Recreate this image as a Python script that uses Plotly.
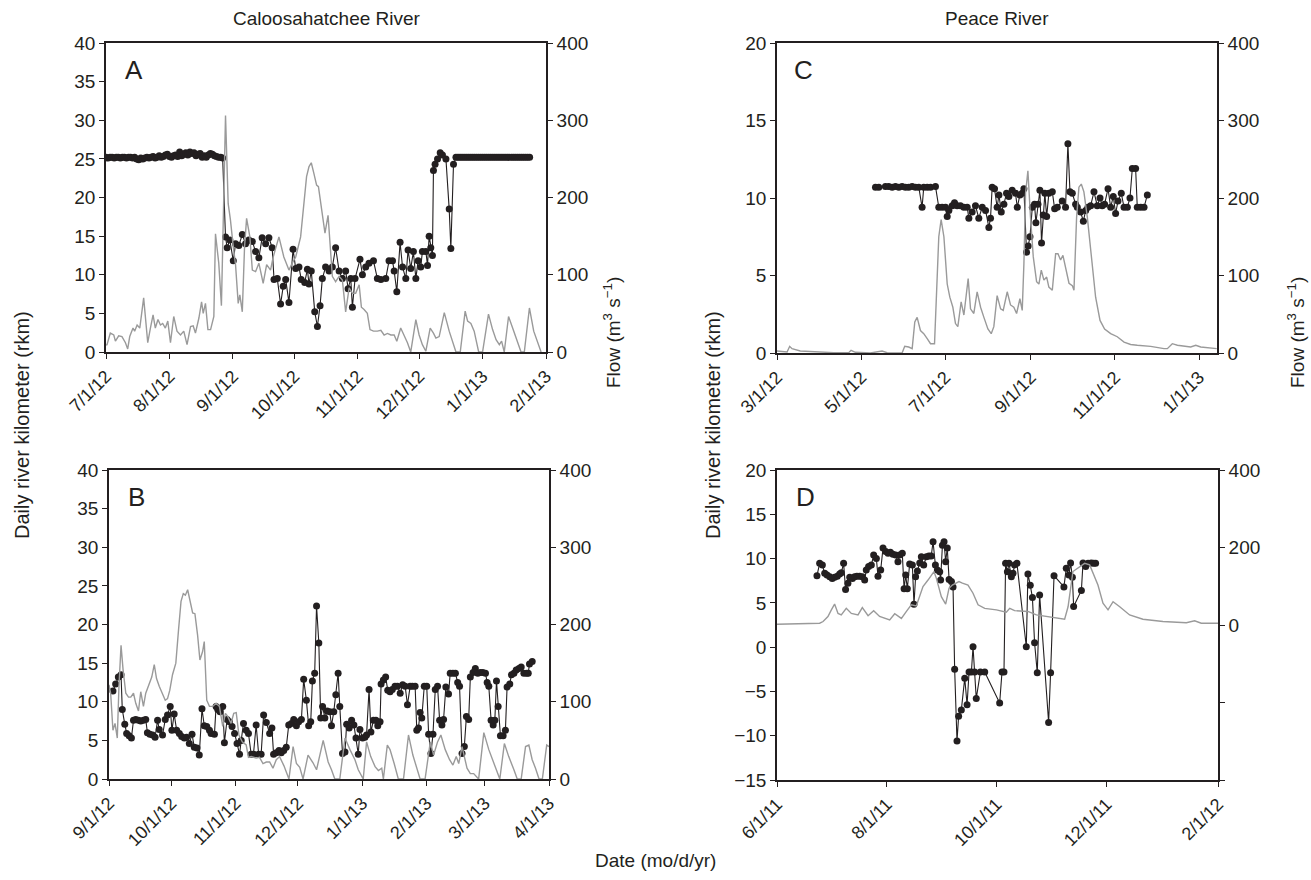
import pandas as pd
import plotly.graph_objects as go

# ---------------- DATA ----------------
# Panel A (Caloosahatchee, start 2012-07-01) : day offsets and values
a_start = "2012-07-01"
a_rkm_day = list(range(0, 58)) + [58.4, 59.2, 60.5, 62.2, 63.3, 64.9, 66.6, 68.2, 69.8, 71.5, 73.1, 74.7, 76.3, 78.0,
    79.6, 81.2, 82.1, 83.7, 85.3, 86.6, 87.8, 89.4, 91.4, 92.7, 94.3, 95.4, 97.1, 98.4, 99.2, 100.3, 102.0,
    103.3, 104.6, 105.7, 107.3, 109.0, 110.6, 112.2, 113.9, 115.5, 117.1, 118.3, 119.6, 120.4, 121.7, 124.1,
    125.3, 126.9, 128.5, 130.7, 132.6, 134.3, 136.7, 138.3, 140.0, 140.8, 142.1, 143.7, 144.9, 146.5, 147.6,
    148.9, 150.2, 151.4, 152.5, 153.8, 154.6, 156.3, 157.1, 157.9, 158.7, 159.5, 160.0, 160.8, 162.0, 163.3,
    164.4, 166.1, 167.7, 168.5, 169.8, 171.0] + list(range(172, 208))
a_rkm = [25.2, 25.1, 25.2, 25.2, 25.1, 25.2, 25.2, 25.1, 25.2, 25.2,
    25.1, 25.2, 25.2, 25.1, 25.2, 25.0, 24.9, 25.1, 25.0, 25.1,
    25.2, 25.1, 25.2, 25.3, 25.1, 25.2, 25.4, 25.2, 25.3, 25.5,
    25.6, 25.3, 25.2, 25.4, 25.5, 25.3, 25.9, 25.4, 25.6, 25.8,
    25.5, 25.9, 25.7, 25.8, 25.4, 25.6, 25.7, 25.2, 25.4, 25.2,
    25.5, 25.7, 25.6, 25.4, 25.3, 25.2, 25.2, 25.1,
    14.9, 13.5, 14.5, 11.8, 14.0, 13.8, 15.2, 14.0, 14.5, 14.3, 13.0, 12.2, 14.8, 14.0,
    14.8, 13.5, 9.4, 9.5, 6.2, 8.5, 9.4, 6.4, 13.3, 10.8, 11.0, 9.4, 9.0, 10.7, 8.8, 10.5, 5.2,
    3.3, 6.0, 9.5, 11.0, 10.5, 11.0, 13.5, 10.5, 9.5, 10.5, 8.2, 9.5, 5.8, 9.5, 12.0,
    10.0, 11.0, 11.5, 11.8, 9.5, 9.4, 9.5, 11.8, 11.8, 10.5, 7.8, 14.2, 11.0, 9.5, 13.2,
    10.8, 13.0, 9.5, 11.8, 11.0, 13.0, 13.0, 11.2, 15.0, 13.5, 12.5, 23.5, 24.3, 25.0, 25.8,
    25.5, 25.0, 18.5, 13.4, 24.3, 25.2,
    25.2, 25.2, 25.2, 25.2, 25.2, 25.2, 25.2, 25.2, 25.2, 25.2, 25.2, 25.2,
    25.2, 25.2, 25.2, 25.2, 25.2, 25.2, 25.2, 25.2, 25.2, 25.2, 25.2, 25.2,
    25.2, 25.2, 25.2, 25.2, 25.2, 25.2, 25.2, 25.2, 25.2, 25.2, 25.2, 25.2]
a_flow_day = [0, 0.5, 2.1, 3.8, 4.6, 6.2, 7.8, 9.5, 10.6, 11.6, 13.2, 14.0, 15.2, 16.5, 18.4, 20.4, 21.7, 23.0,
    24.1, 25.4, 26.6, 27.7, 29.0, 30.2, 31.5, 33.1, 34.7, 36.4, 38.0, 39.6, 41.3, 42.6, 43.7, 45.4, 46.7,
    47.5, 48.6, 49.8, 51.1, 52.7, 53.5, 55.1, 56.4, 58.4, 59.7, 60.8, 62.2, 63.3, 64.6, 65.4, 66.6, 67.7,
    68.7, 70.3, 71.5, 73.1, 74.7, 76.8, 78.5, 80.4, 81.7, 84.5, 86.9, 89.4, 91.0, 92.7, 95.1, 96.7, 98.0,
    99.2, 100.3, 101.6, 102.9, 103.8, 105.2, 107.0, 108.5, 109.5, 110.6, 112.2, 113.9, 115.5, 117.1, 118.8,
    120.4, 122.0, 123.7, 124.8, 126.1, 127.7, 129.0, 130.7, 132.6, 134.3, 135.9, 137.5, 139.2, 140.8, 142.1,
    144.0, 145.7, 147.3, 148.9, 151.4, 153.0, 154.6, 156.3, 158.4, 160.0, 161.2, 162.8, 165.3, 167.7, 169.3,
    171.0, 173.1, 175.5, 176.7, 178.3, 179.9, 182.1, 184.0, 186.9, 188.9, 190.6, 192.2, 193.3, 194.6, 196.7,
    198.7, 201.1, 202.8, 204.4, 206.9, 209.0, 210.9, 212.6]
a_flow = [9, 9.5, 24.5, 22, 14, 21, 20, 12, 4, 20, 31, 27, 35, 31, 70, 12, 31, 48,
    31, 42, 35, 37, 31, 40, 12, 46, 27, 22, 27, 9.5, 33, 34, 24.5, 44, 65,
    50, 63, 29, 29, 46, 153, 115, 60, 306, 192, 171, 136, 113, 63, 74, 52, 136,
    173, 149, 106, 104, 115, 89, 113, 106, 123, 149, 123, 106, 115, 123, 149, 188, 227,
    240, 245, 231, 216, 214, 188, 154, 177, 136, 98, 91, 98, 93, 52, 83,
    76, 76, 87, 58, 55, 50, 29, 27, 27, 28, 22, 24, 22, 22, 14,
    31, 22, 12, 0, 42, 22, 9.5, 1, 31, 24.5, 18, 20, 51, 27, 14,
    0, 0, 53, 40, 37, 27, 0, 0, 49, 29, 16, 9.5, 14, 0, 46,
    31, 12, 0, 0, 57, 27, 12, 0]

# Panel B (Caloosahatchee, start 2012-09-01)
b_start = "2012-09-01"
b_rkm_day = [1.9, 3.2, 4.5, 5.8, 6.4, 7.6, 8.5, 9.7, 10.8, 11.8, 12.9, 14.2, 15.3, 16.6, 17.7, 18.5, 19.7, 21.0,
    22.2, 23.4, 24.2, 25.8, 27.1, 28.2, 29.5, 30.3, 31.4, 32.6, 33.9, 35.0, 36.3, 37.4, 38.7, 40.0, 41.1,
    42.4, 43.5, 44.8, 45.9, 47.1, 48.4, 49.2, 50.8, 51.6, 52.4, 53.5, 54.8, 55.6, 56.9, 58.0, 59.3, 60.5,
    61.7, 62.9, 63.7, 64.8, 66.1, 67.2, 68.5, 69.6, 70.9, 72.1, 73.3, 74.5, 75.8, 77.4, 78.5, 79.3, 80.6,
    81.9, 83.0, 84.2, 85.4, 86.6, 87.9, 89.0, 90.3, 91.4, 92.7, 93.8, 95.1, 96.2, 97.2, 98.0, 99.1, 100.0,
    101.1, 102.0, 102.9, 104.0, 105.1, 106.4, 107.2, 108.3, 109.3, 110.4, 111.2, 112.5, 113.7, 114.5, 115.7,
    116.9, 118.0, 119.0, 120.1, 120.9, 122.2, 123.3, 124.1, 125.3, 126.2, 127.4, 128.6, 129.5, 130.6, 131.1,
    132.2, 133.3, 134.3, 135.4, 136.5, 137.8, 139.0, 140.3, 141.5, 142.7, 143.8, 145.1, 146.2, 147.5, 148.3,
    149.1, 149.9, 150.7, 151.9, 153.1, 154.0, 155.1, 156.1, 157.2, 158.3, 159.3, 160.4, 161.2, 162.3, 163.6,
    164.4, 165.7, 166.9, 168.0, 168.9, 170.1, 171.2, 172.2, 173.3, 174.1, 175.4, 176.5, 177.7, 178.9, 180.1,
    181.4, 182.2, 183.0, 184.1, 185.1, 185.9, 186.7, 187.5, 188.6, 189.9, 191.0, 191.8, 193.1, 193.9, 195.1,
    196.2, 197.5, 198.6, 199.9, 201.2, 202.0, 202.6, 203.9]
b_rkm = [11.4, 12.3, 13.2, 13.5, 9.0, 7.1, 5.9, 5.6, 5.3, 7.6, 7.7, 7.6, 7.5, 7.6, 7.7, 6.0, 5.8, 5.7,
    5.4, 7.6, 6.4, 5.7, 7.7, 8.3, 9.4, 6.3, 8.4, 6.3, 5.9, 5.5, 5.3, 5.4, 4.6, 5.8, 4.1,
    4.0, 3.1, 9.1, 6.9, 6.8, 6.3, 5.9, 5.8, 9.4, 9.0, 8.7, 9.4, 4.7, 7.7, 7.4, 6.8, 5.9,
    4.6, 3.2, 5.0, 7.2, 6.3, 5.9, 3.2, 3.2, 7.0, 3.2, 3.2, 8.3, 7.3, 5.9, 6.6, 3.2, 3.4,
    3.7, 3.4, 3.7, 4.1, 7.0, 7.2, 7.7, 6.9, 7.4, 7.7, 12.9, 10.2, 6.9, 7.4, 12.7, 13.7, 22.4,
    17.6, 7.9, 9.4, 7.9, 8.8, 8.7, 6.9, 8.7, 10.9, 13.7, 9.4, 3.3, 3.5, 7.1, 6.6,
    7.6, 7.0, 5.3, 3.2, 6.4, 5.3, 5.4, 5.7, 11.6, 6.1, 7.6, 7.6, 6.9, 7.4, 12.3,
    12.8, 13.2, 11.5, 11.3, 11.6, 12.0, 12.0, 11.1, 12.2, 12.0, 9.6, 12.0, 12.0, 12.0, 6.3,
    6.6, 8.6, 7.9, 12.0, 12.0, 5.8, 3.3, 5.8, 11.6, 12.0, 7.6, 7.0, 7.7, 11.9, 11.0,
    13.7, 13.7, 13.7, 12.5, 12.0, 3.3, 4.2, 8.1, 7.7, 13.2, 13.8, 14.3, 13.7, 13.8, 13.8,
    13.7, 12.5, 12.0, 7.6, 7.0, 7.6, 12.7, 9.4, 5.6, 5.6, 6.3, 11.9, 12.3, 13.5, 13.7,
    14.1, 14.3, 14.5, 13.7, 13.7, 13.7, 14.9, 15.2]
b_flow_day = [0, 0.8, 1.9, 2.9, 4.0, 4.8, 5.8, 6.8, 8.1, 9.4, 10.5, 11.8, 12.9, 14.2, 15.3, 16.6, 17.7, 19.3,
    20.6, 21.8, 22.9, 24.2, 25.8, 27.1, 28.2, 29.3, 30.6, 32.2, 33.5, 34.7, 35.8, 36.8, 37.9, 39.0, 40.3,
    41.4, 42.7, 43.8, 45.1, 45.9, 47.1, 48.4, 50.0, 51.6, 53.2, 54.8, 56.1, 57.2, 58.8, 60.1, 61.3, 62.6,
    64.2, 66.1, 67.2, 68.5, 70.9, 72.5, 74.2, 75.8, 77.4, 79.0, 80.6, 82.2, 84.3, 86.7, 88.7, 90.3, 91.9,
    93.5, 95.9, 98.3, 100.0, 103.2, 105.6, 107.2, 108.8, 111.2, 113.7, 116.1, 118.5, 120.1, 122.5, 124.1,
    126.1, 128.2, 129.8, 131.4, 132.2, 134.1, 135.4, 137.4, 139.4, 141.9, 144.3, 146.4, 148.3, 149.9, 152.3,
    154.8, 156.4, 158.3, 159.9, 162.0, 164.1, 165.7, 167.3, 168.5, 170.1, 172.5, 174.1, 175.7, 178.1, 180.6,
    183.0, 185.4, 187.0, 188.3, 190.5, 192.6, 195.1, 196.7, 198.6, 200.7, 202.3, 203.9, 205.5, 207.2, 208.8,
    210.9, 212.0]
b_flow = [122, 111, 63, 72, 53, 120, 173, 141, 111, 106, 106, 111, 98, 88, 113, 94, 111, 124,
    132, 148, 130, 120, 109, 102, 104, 115, 135, 150, 193, 230, 240, 238, 245, 232, 215,
    214, 186, 154, 165, 178, 102, 94, 94, 98, 94, 68, 85, 81, 72, 85, 86, 57,
    48, 44, 28, 29, 27, 28, 20, 22, 22, 14, 25, 29, 17, 0, 42, 20, 15,
    0, 31, 21, 12, 50, 22, 12, 0, 0, 53, 38, 25, 12, 0, 48,
    29, 16, 11, 14, 0, 44, 38, 20, 0, 0, 57, 31, 14, 0, 0,
    48, 31, 48, 57, 38, 25, 18, 29, 20, 42, 14, 7, 7, 0, 60,
    38, 20, 9, 0, 46, 29, 12, 0, 0, 42, 44, 25, 14, 0, 0,
    44, 42]

# Panel C (Peace River, start 2012-03-01)
c_start = "2012-03-01"
c_rkm_day = [71.4, 73.8, 78.6, 81.0, 83.5, 85.9, 88.3, 90.7, 93.1, 95.5, 98.0, 100.4, 102.8, 105.2, 106.4,
    108.9, 111.3, 114.9, 117.3, 119.7, 122.2, 123.4, 124.6, 127.0, 128.7, 130.6, 133.0, 135.5, 137.9, 139.1,
    141.5, 143.9, 146.3, 148.8, 151.2, 153.6, 154.8, 156.0, 157.7, 159.6, 160.9, 162.6, 164.5, 166.4, 168.1,
    170.5, 172.9, 174.2, 176.1, 177.8, 179.0, 180.9, 182.1, 183.4, 185.1, 186.7, 187.7, 189.2, 190.6, 191.8,
    193.0, 194.2, 195.5, 197.1, 199.6, 201.3, 203.2, 206.8, 209.2, 210.9, 212.4, 214.1, 216.5, 217.7, 220.1,
    222.1, 223.8, 225.4, 227.4, 229.8, 232.2, 234.2, 235.8, 237.5, 240.0, 241.9, 243.8, 245.5, 247.2, 249.6,
    251.6, 254.0, 255.9, 257.6, 260.0, 261.2, 263.7, 266.1, 268.5]
c_rkm = [10.7, 10.7, 10.75, 10.75, 10.7, 10.75, 10.7, 10.75, 10.7, 10.7, 10.75, 10.7, 10.7, 9.4, 10.7,
    10.7, 10.7, 10.75, 9.4, 9.4, 9.4, 8.8, 9.2, 9.5, 9.7, 9.5, 9.5, 9.4, 9.4, 8.7,
    9.1, 9.5, 8.7, 9.4, 9.2, 8.1, 8.7, 10.7, 10.6, 9.4, 10.2, 9.1, 9.6, 10.3, 10.1,
    10.5, 10.3, 9.4, 10.2, 10.3, 10.6, 6.5, 6.9, 7.5, 9.4, 9.6, 8.4, 9.6, 10.5, 7.1,
    8.9, 10.3, 8.8, 10.3, 10.4, 9.3, 9.4, 9.8, 9.4, 13.5, 10.4, 10.3, 9.6, 9.4, 9.1,
    8.5, 9.2, 9.4, 9.5, 10.4, 9.5, 10.0, 9.5, 9.6, 10.6, 9.4, 10.1, 9.0, 9.8, 10.3,
    9.4, 9.4, 10.0, 11.9, 11.9, 9.4, 9.4, 9.4, 10.2]
c_flow_day = [0, 7.3, 9.2, 10.9, 16.9, 29.0, 41.1, 52.0, 53.7, 56.8, 67.7, 76.2, 79.8, 90.7, 92.6, 95.5, 98.0,
    99.9, 101.6, 104.0, 106.4, 108.9, 111.3, 114.2, 115.6, 117.3, 119.0, 121.0, 123.4, 125.3, 127.5, 129.4,
    131.1, 133.5, 135.5, 136.9, 138.6, 140.3, 142.7, 145.1, 147.6, 150.0, 152.9, 155.3, 157.2, 159.6, 162.1,
    164.0, 166.9, 169.3, 171.7, 173.7, 176.1, 177.8, 179.0, 180.2, 181.9, 183.8, 185.8, 188.2, 189.9, 191.6,
    193.5, 195.5, 197.1, 199.6, 202.0, 203.7, 205.6, 207.3, 209.7, 211.7, 214.1, 215.3, 217.2, 218.9, 220.6,
    222.5, 225.0, 227.9, 231.0, 234.2, 237.5, 241.9, 246.7, 251.6, 256.4, 261.2, 270.9, 280.6, 283.0, 286.6,
    290.3, 299.9, 303.6, 307.2, 318.8]
c_flow = [2.6, 1.3, 8.6, 5.6, 2.6, 1.3, 0.4, 0.4, 3.4, 0.9, 0, 2.6, 0.4, 0, 8.6, 7.7, 5.6,
    40, 46, 29, 25, 18.5, 12, 12, 81, 150, 172, 150, 89, 72, 59, 38,
    34, 66, 49, 72, 96, 57, 51, 79, 59, 46, 31, 25, 34, 74, 57,
    55, 79, 62, 59, 51, 70, 55, 115, 206, 235, 175, 124, 92, 89, 107,
    94, 98, 85, 81, 128, 128, 120, 126, 107, 90, 87, 81, 175, 214, 218,
    208, 175, 124, 72, 42, 31, 25, 21, 14, 11, 10, 8.6, 5.6, 5.6, 12,
    10, 7.7, 10, 7.7, 5.6]

# Panel D (Peace River, start 2011-06-01)
d_start = "2011-06-01"
d_rkm_day = [22.2, 23.7, 25.2, 26.5, 27.8, 29.3, 30.7, 32.0, 33.5, 34.8, 35.7, 37.0, 38.1, 39.4, 40.4, 41.9, 43.1,
    44.4, 45.9, 47.4, 48.7, 49.6, 50.9, 52.4, 53.7, 55.2, 56.1, 57.6, 58.9, 60.4, 61.7, 63.0, 64.4, 65.9,
    67.2, 68.1, 69.6, 70.6, 71.5, 72.4, 73.7, 75.2, 76.1, 77.0, 78.0, 79.3, 80.2, 81.5, 83.0, 84.4, 85.7,
    86.7, 88.0, 89.1, 90.4, 90.9, 91.9, 92.8, 93.7, 94.6, 95.6, 96.9, 97.8, 98.7, 100.0, 100.9, 102.4, 104.3,
    105.6, 106.7, 108.0, 108.9, 109.8, 110.7, 113.0, 115.4, 123.7, 125.0, 126.1, 127.0, 128.0, 128.9, 130.2,
    131.1, 132.0, 133.3, 138.5, 139.4, 140.7, 141.9, 143.1, 144.6, 145.9, 150.9, 152.0, 153.9, 159.4, 160.7,
    162.2, 163.1, 164.1, 164.8, 169.1, 170.0, 171.5, 172.8, 174.6, 175.9, 177.0]
d_rkm = [8.07, 9.46, 9.27, 8.33, 8.14, 7.95, 7.76, 7.88, 8.0, 8.26, 8.4, 9.46, 6.5, 7.2, 7.88, 7.76, 7.95,
    8.0, 8.0, 7.95, 7.58, 8.7, 9.1, 9.27, 10.4, 10.0, 8.0, 8.7, 11.2, 10.8, 10.6, 10.7, 10.5, 10.4,
    9.65, 10.4, 10.6, 6.6, 8.14, 6.6, 9.4, 9.27, 4.85, 7.95, 8.6, 9.5, 10.2, 9.27, 10.2, 10.3, 10.3,
    11.9, 9.27, 8.7, 8.5, 7.58, 11.5, 11.9, 9.65, 11.2, 7.65, 7.4, 6.8, -2.5, -10.6, -7.8, -7.1, -3.5,
    -6.5, -2.8, -2.8, 0.05, -2.8, -5.8, -2.8, -2.8, -6.3, -2.8, -2.8, 9.46, 8.5, 9.46, 7.95,
    8.33, 9.27, 9.46, 0.05, 8.26, 7.0, 5.6, 0.5, -2.9, 5.9, -8.5, -2.9, 8.07, 6.8, 8.9,
    8.14, 9.5, 7.88, 4.6, 6.4, 9.5, 9.1, 9.46, 9.5, 9.46, 9.46]
d_flow_day = [0, 23.7, 25.6, 28.3, 30.2, 32.0, 33.9, 35.7, 38.5, 41.3, 45.0, 47.4, 50.6, 53.7, 57.0, 62.6, 65.4,
    69.1, 71.9, 74.6, 77.4, 81.1, 83.9, 87.2, 88.5, 91.3, 93.7, 95.6, 97.4, 101.1, 103.0, 106.1, 108.9, 111.7,
    115.4, 121.9, 127.4, 129.3, 132.0, 139.4, 144.1, 151.5, 159.8, 161.7, 164.4, 170.9, 173.7, 178.3, 181.1,
    183.9, 186.7, 190.4, 195.9, 203.3, 214.4, 227.4, 232.0, 235.7, 245.0]
d_flow = [2, 4.6, 9, 22, 39, 54, 30, 26, 43, 30, 26, 45, 24, 37, 22, 13, 29,
    17, 35, 52, 49, 99, 116, 138, 121, 73, 54, 95, 103, 112, 108, 103, 82, 52,
    43, 39, 33, 43, 37, 35, 26, 20, 15, 47, 138, 159, 155, 103, 56,
    39, 60, 47, 26, 15, 9, 6, 11, 4.6, 4.6]

# Axis ranges and tick labels
a_xrange = ["2012-07-01", "2013-02-01"]
b_xrange = ["2012-09-01", "2013-04-01"]
c_xrange = ["2012-03-01", "2013-01-14"]
d_xrange = ["2011-06-01", "2012-02-01"]
a_ticks = ["2012-07-01", "2012-08-01", "2012-09-01", "2012-10-01", "2012-11-01", "2012-12-01", "2013-01-01", "2013-02-01"]
a_ticktext = ["7/1/12", "8/1/12", "9/1/12", "10/1/12", "11/1/12", "12/1/12", "1/1/13", "2/1/13"]
b_ticks = ["2012-09-01", "2012-10-01", "2012-11-01", "2012-12-01", "2013-01-01", "2013-02-01", "2013-03-01", "2013-04-01"]
b_ticktext = ["9/1/12", "10/1/12", "11/1/12", "12/1/12", "1/1/13", "2/1/13", "3/1/13", "4/1/13"]
c_ticks = ["2012-03-01", "2012-05-01", "2012-07-01", "2012-09-01", "2012-11-01", "2013-01-01"]
c_ticktext = ["3/1/12", "5/1/12", "7/1/12", "9/1/12", "11/1/12", "1/1/13"]
d_ticks = ["2011-06-01", "2011-08-01", "2011-10-01", "2011-12-01", "2012-02-01"]
d_ticktext = ["6/1/11", "8/1/11", "10/1/11", "12/1/11", "2/1/12"]
d_flow_ticks = [-400, -200, 0, 200, 400]
d_flow_ticktext = ["", "", "0", "200", "400"]

# ---------------- FIGURE ----------------
W, H = 1311, 880
INK = "#231f20"
GRAY = "#9a9a9a"
FONT = "Liberation Sans, Arial, Helvetica, sans-serif"


def to_dates(start, days):
    return pd.Timestamp(start) + pd.to_timedelta(pd.Series(days, dtype=float), unit="D")


def px_dom(a, b, total):
    return [a / total, b / total]


def py_dom(top, bottom):
    return [1 - bottom / H, 1 - top / H]


fig = go.Figure()

panels = [
    (a_start, a_rkm_day, a_rkm, a_flow_day, a_flow, "x", "y", "y2"),
    (b_start, b_rkm_day, b_rkm, b_flow_day, b_flow, "x2", "y3", "y4"),
    (c_start, c_rkm_day, c_rkm, c_flow_day, c_flow, "x3", "y5", "y6"),
    (d_start, d_rkm_day, d_rkm, d_flow_day, d_flow, "x4", "y7", "y8"),
]
for start, rd, rv, fd, fv, xa, yl, yr in panels:
    fig.add_trace(go.Scatter(x=to_dates(start, fd), y=fv, mode="lines",
                             line=dict(color=GRAY, width=1.4), xaxis=xa, yaxis=yr,
                             hoverinfo="skip"))
    fig.add_trace(go.Scatter(x=to_dates(start, rd), y=rv, mode="lines+markers",
                             line=dict(color=INK, width=1.1),
                             marker=dict(color=INK, size=7, symbol="circle"),
                             xaxis=xa, yaxis=yl, hoverinfo="skip"))

common_x = dict(type="date", showgrid=False, zeroline=False, showline=True, mirror=True,
                automargin=False,
                linecolor=INK, linewidth=1.6, ticks="outside", ticklen=5, tickcolor=INK,
                tickwidth=1.3, tickangle=-45, tickfont=dict(size=18, color=INK, family=FONT))
common_y = dict(showgrid=False, zeroline=False, showline=True, linecolor=INK, linewidth=1.6,
                automargin=False,
                ticks="outside", ticklen=5, tickcolor=INK, tickwidth=1.3,
                tickfont=dict(size=19, color=INK, family=FONT))

A_dom = (106, 546, 43, 352)
B_dom = (109, 549, 470, 779)
C_dom = (777, 1217, 43, 353)
D_dom = (777, 1218, 470, 780)

layout = dict(
    width=W, height=H, margin=dict(l=0, r=0, t=0, b=0, autoexpand=False),
    paper_bgcolor="white", plot_bgcolor="white", showlegend=False,
    font=dict(family=FONT, size=18, color=INK),
    xaxis=dict(common_x, domain=px_dom(A_dom[0], A_dom[1], W), anchor="y", range=a_xrange,
               tickvals=a_ticks, ticktext=a_ticktext),
    yaxis=dict(common_y, domain=py_dom(A_dom[2], A_dom[3]), anchor="x", range=[0, 40], dtick=5, tick0=0),
    yaxis2=dict(common_y, overlaying="y", side="right", anchor="x", range=[0, 400], dtick=100, tick0=0),
    xaxis2=dict(common_x, domain=px_dom(B_dom[0], B_dom[1], W), anchor="y3", range=b_xrange,
                tickvals=b_ticks, ticktext=b_ticktext),
    yaxis3=dict(common_y, domain=py_dom(B_dom[2], B_dom[3]), anchor="x2", range=[0, 40], dtick=5, tick0=0),
    yaxis4=dict(common_y, overlaying="y3", side="right", anchor="x2", range=[0, 400], dtick=100, tick0=0),
    xaxis3=dict(common_x, domain=px_dom(C_dom[0], C_dom[1], W), anchor="y5", range=c_xrange,
                tickvals=c_ticks, ticktext=c_ticktext),
    yaxis5=dict(common_y, domain=py_dom(C_dom[2], C_dom[3]), anchor="x3", range=[0, 20], dtick=5, tick0=0),
    yaxis6=dict(common_y, overlaying="y5", side="right", anchor="x3", range=[0, 400], dtick=100, tick0=0),
    xaxis4=dict(common_x, domain=px_dom(D_dom[0], D_dom[1], W), anchor="y7", range=d_xrange,
                tickvals=d_ticks, ticktext=d_ticktext),
    yaxis7=dict(common_y, domain=py_dom(D_dom[2], D_dom[3]), anchor="x4", range=[-15, 20], dtick=5, tick0=0),
    yaxis8=dict(common_y, overlaying="y7", side="right", anchor="x4", range=[-400, 400],
                tickvals=d_flow_ticks, ticktext=d_flow_ticktext),
)
fig.update_layout(**layout)


def ann(text, x, y, size=19, angle=0, xanchor="center", yanchor="middle"):
    fig.add_annotation(text=text, x=x / W, y=1 - y / H, xref="paper", yref="paper",
                       showarrow=False, textangle=angle, xanchor=xanchor, yanchor=yanchor,
                       font=dict(size=size, color=INK, family=FONT))


ann("Caloosahatchee River", 327, 18)
ann("Peace River", 997, 18)
ann("Date (mo/d/yr)", 655, 860)
ann("Daily river kilometer (rkm)", 22, 425, size=20, angle=-90)
ann("Daily river kilometer (rkm)", 713, 425, size=20, angle=-90)
ann("Flow (m<sup>3</sup> s<sup>−1</sup>)", 612, 333, size=19, angle=-90)
ann("Flow (m<sup>3</sup> s<sup>−1</sup>)", 1296, 333, size=19, angle=-90)
ann("A", 123, 70, size=26, xanchor="left")
ann("B", 126, 497, size=26, xanchor="left")
ann("C", 792, 70, size=26, xanchor="left")
ann("D", 794, 497, size=26, xanchor="left")

fig.write_html("out.html")
